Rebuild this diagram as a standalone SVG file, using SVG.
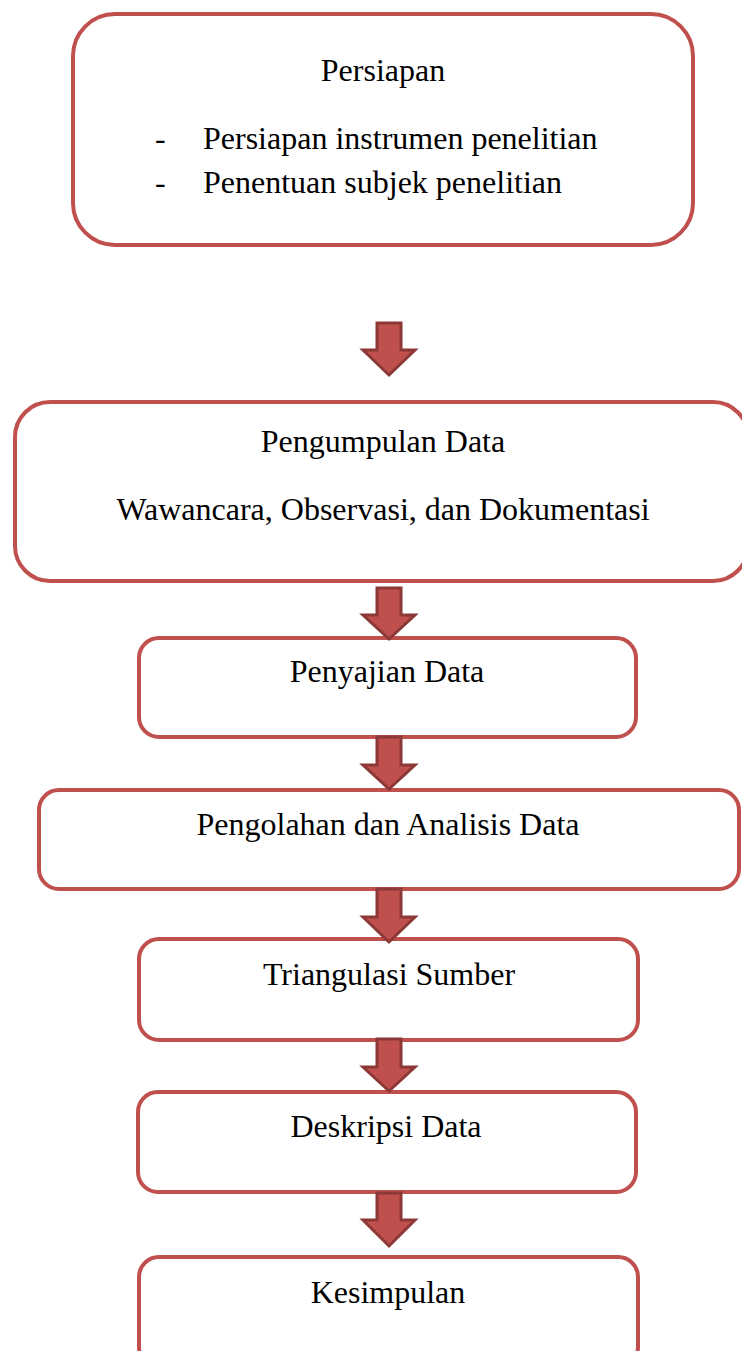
<svg xmlns="http://www.w3.org/2000/svg" width="742" height="1351" viewBox="0 0 742 1351">
<style>
.box{fill:#FFFFFF;stroke:#C0504D;stroke-width:4}
.t{font-family:"Liberation Serif","Times New Roman",serif;font-size:32px;fill:#000000}
.c{text-anchor:middle}
.arr{fill:#C0504D;stroke:#8C3836;stroke-width:3;stroke-linejoin:miter}
</style>
<rect width="742" height="1351" fill="#FFFFFF"/>
<g id="persiapan">
<rect class="box" x="73" y="14" width="620" height="231" rx="42" ry="42"/>
<text class="t c" x="383" y="81">Persiapan</text>
<text class="t" x="155" y="149">-</text>
<text class="t" x="203" y="149">Persiapan instrumen penelitian</text>
<text class="t" x="155" y="193">-</text>
<text class="t" x="203" y="193">Penentuan subjek penelitian</text>
</g>
<g id="pengumpulan">
<rect class="box" x="15" y="402" width="733" height="179" rx="35" ry="35"/>
<text class="t c" x="383" y="452">Pengumpulan Data</text>
<text class="t c" x="383" y="520">Wawancara, Observasi, dan Dokumentasi</text>
</g>
<g id="penyajian">
<rect class="box" x="139" y="638" width="497" height="99" rx="20" ry="20"/>
<text class="t c" x="387" y="682">Penyajian Data</text>
</g>
<g id="pengolahan">
<rect class="box" x="39" y="790" width="700" height="99" rx="20" ry="20"/>
<text class="t c" x="388" y="835">Pengolahan dan Analisis Data</text>
</g>
<g id="triangulasi">
<rect class="box" x="139" y="939" width="499" height="101" rx="20" ry="20"/>
<text class="t c" x="389" y="985">Triangulasi Sumber</text>
</g>
<g id="deskripsi">
<rect class="box" x="138" y="1092" width="498" height="100" rx="20" ry="20"/>
<text class="t c" x="386" y="1137">Deskripsi Data</text>
</g>
<g id="kesimpulan">
<rect class="box" x="139" y="1257" width="499" height="110" rx="20" ry="20"/>
<text class="t c" x="388" y="1303">Kesimpulan</text>
</g>
<g id="connectors">
<path class="arr" d="M377,323 L401,323 L401,350 L415,350 L389,375 L363,350 L377,350 Z"/>
<path class="arr" d="M377,588 L401,588 L401,615 L415,615 L389,639 L363,615 L377,615 Z"/>
<path class="arr" d="M377,737 L401,737 L401,765 L415,765 L389,789 L363,765 L377,765 Z"/>
<path class="arr" d="M377,889 L401,889 L401,917 L415,917 L389,942 L363,917 L377,917 Z"/>
<path class="arr" d="M377,1039 L401,1039 L401,1067 L415,1067 L389,1091 L363,1067 L377,1067 Z"/>
<path class="arr" d="M377,1193 L401,1193 L401,1220 L415,1220 L389,1246 L363,1220 L377,1220 Z"/>
</g>
</svg>
